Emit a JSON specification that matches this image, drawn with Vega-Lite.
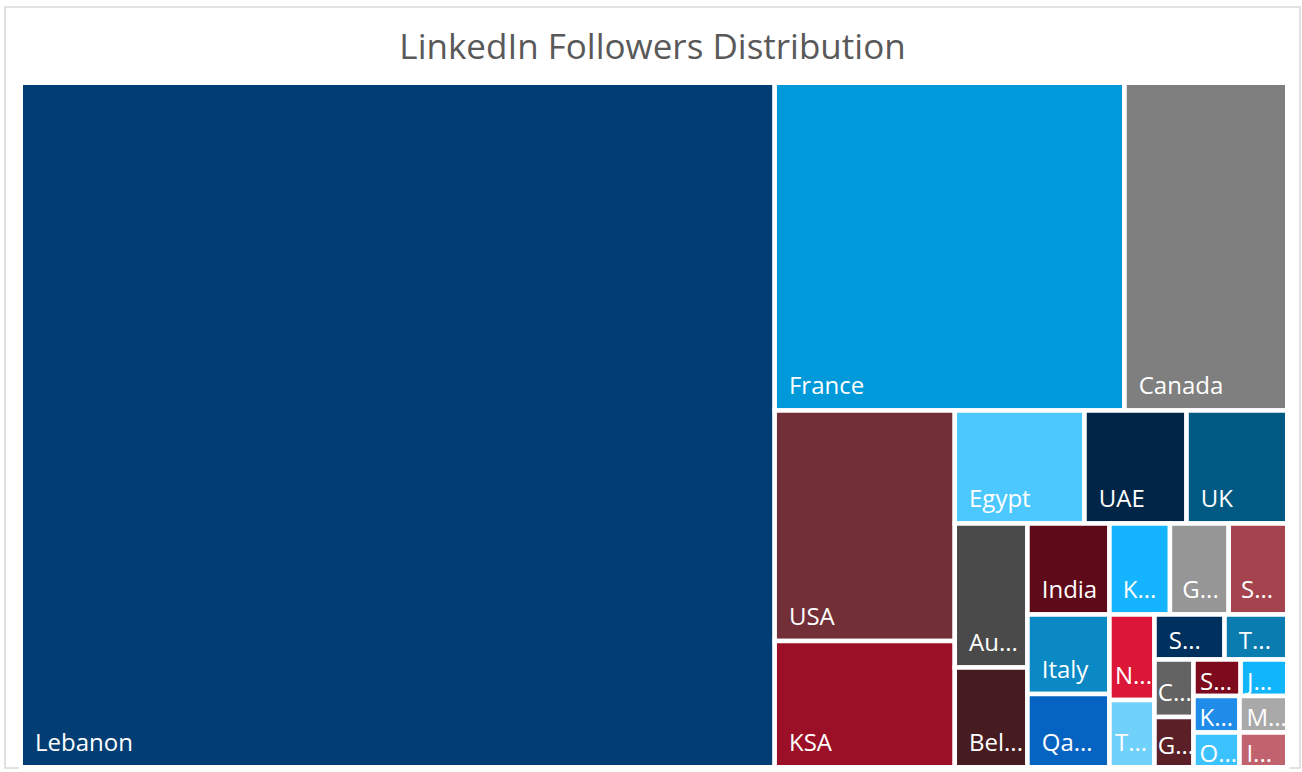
{
  "$schema": "https://vega.github.io/schema/vega-lite/v6.json",
  "width": 1295,
  "height": 761,
  "autosize": {"type": "none"},
  "padding": {"left": 5, "top": 7, "right": 2, "bottom": 4},
  "background": "white",
  "config": {"view": {"stroke": "#d9d9d9", "strokeWidth": 1.5}},
  "title": {
    "text": "LinkedIn Followers Distribution",
    "font": "Open Sans",
    "fontSize": 35,
    "fontWeight": "normal",
    "color": "#595959",
    "anchor": "middle",
    "baseline": "alphabetic",
    "offset": -87
  },
  "data": {
    "values": [
      {"country": "Lebanon", "label": "Lebanon", "value": 51608, "level": 1, "strip": "col"},
      {"country": "France", "label": "France", "value": 11465, "level": 2, "strip": "row"},
      {"country": "Canada", "label": "Canada", "value": 5334, "level": 2, "strip": "row"},
      {"country": "USA", "label": "USA", "value": 4151, "level": 3, "strip": "col"},
      {"country": "KSA", "label": "KSA", "value": 2274, "level": 3, "strip": "col"},
      {"country": "Egypt", "label": "Egypt", "value": 1466, "level": 4, "strip": "row"},
      {"country": "UAE", "label": "UAE", "value": 1153, "level": 4, "strip": "row"},
      {"country": "UK", "label": "UK", "value": 1138, "level": 4, "strip": "row"},
      {"country": "Australia", "label": "Au...", "value": 1047, "level": 5, "strip": "col"},
      {"country": "Belgium", "label": "Bel...", "value": 725, "level": 5, "strip": "col"},
      {"country": "India", "label": "India", "value": 746, "level": 6, "strip": "col"},
      {"country": "Italy", "label": "Italy", "value": 652, "level": 6, "strip": "col"},
      {"country": "Qatar", "label": "Qa...", "value": 601, "level": 6, "strip": "col"},
      {"country": "Kuwait", "label": "K...", "value": 551, "level": 7, "strip": "row"},
      {"country": "Germany", "label": "G...", "value": 535, "level": 7, "strip": "row"},
      {"country": "Spain", "label": "S...", "value": 533, "level": 7, "strip": "row"},
      {"country": "Netherlands", "label": "N...", "value": 385, "level": 8, "strip": "col"},
      {"country": "Turkey", "label": "T...", "value": 303, "level": 8, "strip": "col"},
      {"country": "Switzerland", "label": "S...", "value": 315, "level": 9, "strip": "row"},
      {"country": "Tunisia", "label": "T...", "value": 282, "level": 9, "strip": "row"},
      {"country": "China", "label": "C...", "value": 224, "level": 10, "strip": "col"},
      {"country": "Greece", "label": "G...", "value": 196, "level": 10, "strip": "col"},
      {"country": "Sweden", "label": "S...", "value": 172, "level": 11, "strip": "row"},
      {"country": "Jordan", "label": "J...", "value": 170, "level": 11, "strip": "row"},
      {"country": "Kenya", "label": "K...", "value": 168, "level": 12, "strip": "col"},
      {"country": "Oman", "label": "O...", "value": 160, "level": 12, "strip": "col"},
      {"country": "Morocco", "label": "M...", "value": 174, "level": 13, "strip": "col"},
      {"country": "Iraq", "label": "I...", "value": 166, "level": 13, "strip": "col"}
    ]
  },
  "transform": [
    {"joinaggregate": [{"op": "sum", "field": "value", "as": "total"}]},
    {"calculate": "datum.value * 1266.5 * 684.5 / datum.total", "as": "a"},
    {"joinaggregate": [{"op": "sum", "field": "a", "as": "La"}, {"op": "count", "as": "n"}], "groupby": ["level"]},
    {"window": [{"op": "sum", "field": "a", "as": "cumA0"}], "sort": [{"field": "level", "order": "ascending"}], "frame": [null, 0]},
    {"joinaggregate": [{"op": "max", "field": "cumA0", "as": "cumA"}], "groupby": ["level"]},
    {"calculate": "1266.5 * 684.5 - datum.cumA + datum.La", "as": "R"},
    {"calculate": "1266.5 * 684.5 - datum.cumA", "as": "Rn"},
    {"calculate": "datum.Rn > 1e-6 * datum.R ? log(datum.Rn / datum.R) : 0", "as": "lr"},
    {"calculate": "datum.strip == 'col' ? datum.lr : 0", "as": "lv"},
    {"calculate": "datum.strip == 'row' ? datum.lr : 0", "as": "lh"},
    {"calculate": "datum.lv / datum.n", "as": "lvn"},
    {"calculate": "datum.lh / datum.n", "as": "lhn"},
    {"window": [{"op": "sum", "field": "lvn", "as": "LV0"}, {"op": "sum", "field": "lhn", "as": "LH0"}], "sort": [{"field": "level", "order": "ascending"}], "frame": [null, 0]},
    {"joinaggregate": [{"op": "min", "field": "LV0", "as": "LV"}, {"op": "min", "field": "LH0", "as": "LH"}], "groupby": ["level"]},
    {"calculate": "1266.5 * exp(datum.LV - datum.lv)", "as": "Wk"},
    {"calculate": "684.5 * exp(datum.LH - datum.lh)", "as": "Hk"},
    {"calculate": "datum.strip == 'col' ? datum.La / datum.Hk : datum.La / datum.Wk", "as": "t"},
    {"calculate": "datum.strip == 'col' ? datum.t / datum.n : 0", "as": "tvn"},
    {"calculate": "datum.strip == 'row' ? datum.t / datum.n : 0", "as": "thn"},
    {"window": [{"op": "sum", "field": "tvn", "as": "TV0"}, {"op": "sum", "field": "thn", "as": "TH0"}], "sort": [{"field": "level", "order": "ascending"}], "frame": [null, 0]},
    {"joinaggregate": [{"op": "max", "field": "TV0", "as": "TV"}, {"op": "max", "field": "TH0", "as": "TH"}], "groupby": ["level"]},
    {"calculate": "datum.TV - (datum.strip == 'col' ? datum.t : 0)", "as": "Xk"},
    {"calculate": "datum.TH - (datum.strip == 'row' ? datum.t : 0)", "as": "Yk"},
    {"stack": "a", "groupby": ["level"], "sort": [{"field": "value", "order": "descending"}], "as": ["s0", "s1"]},
    {"calculate": "datum.strip == 'col' ? datum.Xk : datum.Xk + datum.s0 / datum.La * datum.Wk", "as": "x0"},
    {"calculate": "datum.strip == 'col' ? datum.Xk + datum.t : datum.Xk + datum.s1 / datum.La * datum.Wk", "as": "x1"},
    {"calculate": "datum.strip == 'col' ? datum.Yk + datum.s0 / datum.La * datum.Hk : datum.Yk", "as": "y0"},
    {"calculate": "datum.strip == 'col' ? datum.Yk + datum.s1 / datum.La * datum.Hk : datum.Yk + datum.t", "as": "y1"},
    {"calculate": "datum.x0 + 2.25 + min(12, max(1, (datum.x1 - datum.x0 - 4.5 - 34) / 2))", "as": "lx"},
    {"calculate": "datum.y1 - 2.25 - min(14, max(2, (datum.y1 - datum.y0 - 4.5 - 24) / 2))", "as": "ly"}
  ],
  "layer": [
    {
      "mark": {"type": "rect", "stroke": "white", "strokeWidth": 4.5},
      "encoding": {
        "x": {"field": "x0", "type": "quantitative", "scale": {"domain": [-15.75, 1279.25], "nice": false, "zero": false}, "axis": null},
        "x2": {"field": "x1"},
        "y": {"field": "y0", "type": "quantitative", "scale": {"domain": [-75.75, 685.25], "nice": false, "zero": false, "reverse": true}, "axis": null},
        "y2": {"field": "y1"},
        "color": {
          "field": "country",
          "type": "nominal",
          "legend": null,
          "scale": {
            "domain": ["Lebanon", "France", "Canada", "USA", "KSA", "Egypt", "UAE", "UK", "Australia", "Belgium", "India", "Italy", "Qatar", "Kuwait", "Germany", "Spain", "Netherlands", "Turkey", "Switzerland", "Tunisia", "China", "Greece", "Sweden", "Jordan", "Kenya", "Oman", "Morocco", "Iraq"],
            "range": ["#023e74", "#0099d9", "#7f7f7f", "#722f37", "#9b1027", "#4dc8ff", "#002546", "#005983", "#4a4a4a", "#461c21", "#5e0a18", "#0a89c4", "#0563c1", "#14b4ff", "#969696", "#a5444f", "#dc1637", "#70d1fa", "#00305d", "#0a7cb0", "#636363", "#5a1f27", "#7e0a1e", "#10b5fb", "#1e8ce8", "#3cc2ff", "#a9a9a9", "#c0636f"]
          }
        }
      }
    },
    {
      "mark": {"type": "text", "align": "left", "baseline": "alphabetic", "font": "Open Sans", "fontSize": 24, "color": "white"},
      "encoding": {
        "x": {"field": "lx", "type": "quantitative", "scale": {"domain": [-15.75, 1279.25], "nice": false, "zero": false}, "axis": null},
        "y": {"field": "ly", "type": "quantitative", "scale": {"domain": [-75.75, 685.25], "nice": false, "zero": false, "reverse": true}, "axis": null},
        "text": {"field": "label", "type": "nominal"}
      }
    }
  ]
}
